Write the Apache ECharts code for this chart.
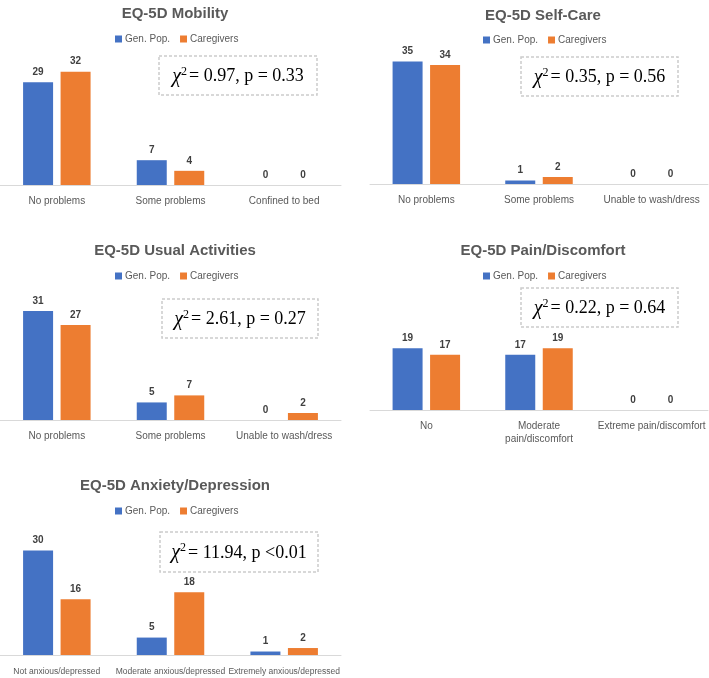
<!DOCTYPE html>
<html>
<head>
<meta charset="utf-8">
<script src="https://cdn.jsdelivr.net/npm/echarts@6/dist/echarts.min.js"></script>
<style>html,body{margin:0;padding:0;background:#fff}#c{width:709px;height:678px}</style>
</head>
<body>
<div id="c"></div>
<script>
// ---- data ----
const seriesNames = ['Gen. Pop.', 'Caregivers'];

const mobilityTitle = 'EQ-5D Mobility';
const mobilityCats = ['No problems', 'Some problems', 'Confined to bed'];
const mobilityGen = [29, 7, 0];
const mobilityCare = [32, 4, 0];
const mobilityStat = ['0.97', 'p = 0.33'];

const selfCareTitle = 'EQ-5D Self-Care';
const selfCareCats = ['No problems', 'Some problems', 'Unable to wash/dress'];
const selfCareGen = [35, 1, 0];
const selfCareCare = [34, 2, 0];
const selfCareStat = ['0.35', 'p = 0.56'];

const usualTitle = 'EQ-5D Usual Activities';
const usualCats = ['No problems', 'Some problems', 'Unable to wash/dress'];
const usualGen = [31, 5, 0];
const usualCare = [27, 7, 2];
const usualStat = ['2.61', 'p = 0.27'];

const painTitle = 'EQ-5D Pain/Discomfort';
const painCats = ['No', 'Moderate\npain/discomfort', 'Extreme pain/discomfort'];
const painGen = [19, 17, 0];
const painCare = [17, 19, 0];
const painStat = ['0.22', 'p = 0.64'];

const anxietyTitle = 'EQ-5D Anxiety/Depression';
const anxietyCats = ['Not anxious/depressed', 'Moderate anxious/depressed', 'Extremely anxious/depressed'];
const anxietyGen = [30, 5, 1];
const anxietyCare = [16, 18, 2];
const anxietyStat = ['11.94', 'p <0.01'];

// ---- layout ----
const panels = [
  {title: mobilityTitle, cats: mobilityCats, gen: mobilityGen, care: mobilityCare, stat: mobilityStat,
   grid: {left: 0, width: 341, top: 61, height: 124}, max: 35, tx: 170, ty: 1, lx: 110, ly: 29, box: [159, 56, 158, 39], lf: 10},
  {title: selfCareTitle, cats: selfCareCats, gen: selfCareGen, care: selfCareCare, stat: selfCareStat,
   grid: {left: 370, width: 338, top: 44, height: 140}, max: 40, tx: 538, ty: 3, lx: 478, ly: 30, box: [521, 57, 157, 39], lf: 10},
  {title: usualTitle, cats: usualCats, gen: usualGen, care: usualCare, stat: usualStat,
   grid: {left: 0, width: 341, top: 297, height: 123}, max: 35, tx: 170, ty: 238, lx: 110, ly: 266, box: [162, 299, 156, 39], lf: 10},
  {title: painTitle, cats: painCats, gen: painGen, care: painCare, stat: painStat,
   grid: {left: 370, width: 338, top: 345, height: 65}, max: 20, tx: 538, ty: 238, lx: 478, ly: 266, box: [521, 288, 157, 39], lf: 10},
  {title: anxietyTitle, cats: anxietyCats, gen: anxietyGen, care: anxietyCare, stat: anxietyStat,
   grid: {left: 0, width: 341, top: 533, height: 126}, max: 35, tx: 170, ty: 473, lx: 110, ly: 501, box: [160, 532, 158, 40], lf: 8.5}
];

const COLORS = ['#4472C4', '#ED7D31'];
const SANS = 'Liberation Sans, Arial, sans-serif';
const SERIF = 'Liberation Serif, Times New Roman, serif';

const option = {
  animation: false,
  color: COLORS,
  title: [], legend: [], grid: [], xAxis: [], yAxis: [], series: [], graphic: []
};

panels.forEach((p, i) => {
  option.title.push({
    text: p.title, left: p.tx, top: p.ty, textAlign: 'center',
    textStyle: {fontFamily: SANS, fontSize: 15, fontWeight: 'bold', color: '#595959'}
  });
  option.legend.push({
    data: seriesNames, left: p.lx, top: p.ly, itemWidth: 7, itemHeight: 7, itemGap: 10,
    icon: 'rect', selectedMode: false,
    textStyle: {fontFamily: SANS, fontSize: 10, color: '#595959', padding: [0, 0, 0, -2]}
  });
  option.grid.push(Object.assign({containLabel: false}, p.grid));
  option.xAxis.push({
    type: 'category', gridIndex: i, data: p.cats,
    axisLine: {lineStyle: {color: '#d9d9d9', width: 1}},
    axisTick: {show: false},
    axisLabel: {interval: 0, margin: 10, fontFamily: SANS, fontSize: p.lf, color: '#595959', lineHeight: 13}
  });
  option.yAxis.push({type: 'value', gridIndex: i, min: 0, max: p.max, show: false, splitLine: {show: false}});
  [p.gen, p.care].forEach((vals, k) => {
    option.series.push({
      type: 'bar', name: seriesNames[k], xAxisIndex: i, yAxisIndex: i, data: vals,
      barWidth: 30, barGap: '25%',
      itemStyle: {color: COLORS[k]},
      label: {show: true, position: 'top', distance: 5, fontFamily: SANS, fontSize: 10, fontWeight: 'bold', color: '#404040'}
    });
  });
  const [bx, by, bw, bh] = p.box;
  option.graphic.push({
    type: 'rect', shape: {x: bx, y: by, width: bw, height: bh},
    style: {fill: '#ffffff', stroke: '#cccccc', lineWidth: 1.5, lineDash: [3, 2]}, z: 10
  });
  option.graphic.push({
    type: 'text', x: bx + bw / 2, y: by + bh / 2 + 1, z: 11,
    style: {
      text: '{c|χ}{s|2}{m|= ' + p.stat[0] + ', ' + p.stat[1] + '}',
      align: 'center', verticalAlign: 'middle',
      rich: {
        c: {fontFamily: SERIF, fontSize: 20, fontStyle: 'italic', fill: '#000', lineHeight: 22},
        s: {fontFamily: SERIF, fontSize: 12, fill: '#000', lineHeight: 13, verticalAlign: 'top', padding: [0, 2, 0, 0]},
        m: {fontFamily: SERIF, fontSize: 18, fill: '#000', lineHeight: 22}
      }
    }
  });
});

const chart = echarts.init(document.getElementById('c'), null, {renderer: 'canvas'});
chart.setOption(option);
</script>
</body>
</html>
